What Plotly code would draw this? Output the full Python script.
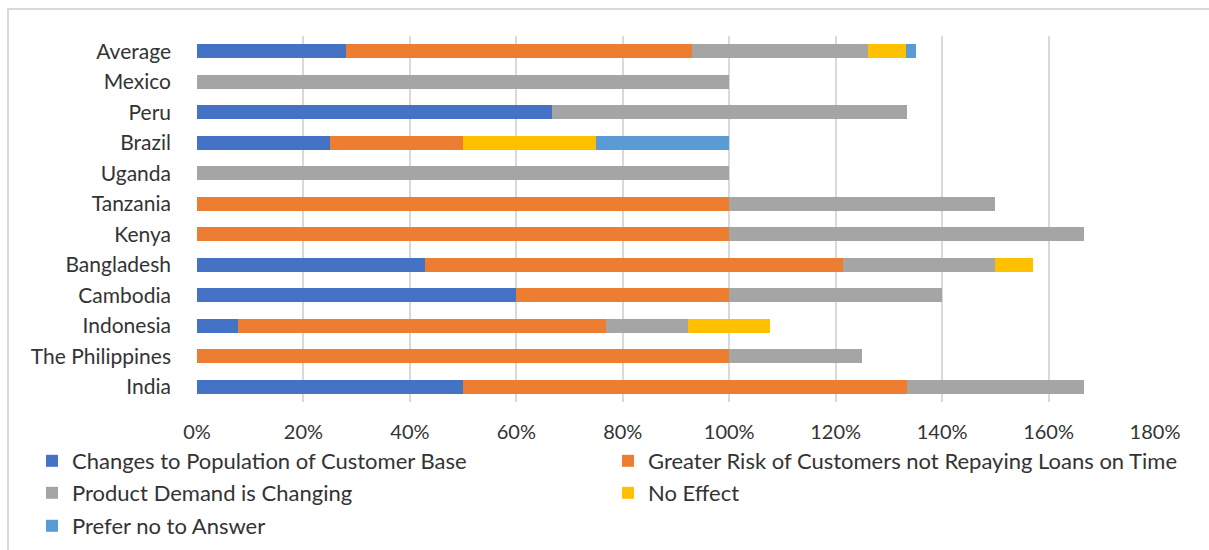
import plotly.graph_objects as go

categories = ["India", "The Philippines", "Indonesia", "Cambodia", "Bangladesh", "Kenya",
              "Tanzania", "Uganda", "Brazil", "Peru", "Mexico", "Average"]

series_names = ["Changes to Population of Customer Base",
                "Greater Risk of Customers not Repaying Loans on Time",
                "Product Demand is Changing",
                "No Effect",
                "Prefer no to Answer"]

customer_base = [0.50, 0.0, 0.0769, 0.60, 0.4286, 0.0, 0.0, 0.0, 0.25, 0.6667, 0.0, 0.28]
repay_risk = [0.8333, 1.00, 0.6923, 0.40, 0.7857, 1.00, 1.00, 0.0, 0.25, 0.0, 0.0, 0.65]
demand_change = [0.3333, 0.25, 0.1538, 0.40, 0.2857, 0.6667, 0.50, 1.00, 0.0, 0.6667, 1.00, 0.33]
no_effect = [0.0, 0.0, 0.1538, 0.0, 0.0714, 0.0, 0.0, 0.0, 0.25, 0.0, 0.0, 0.073]
no_answer = [0.0, 0.0, 0.0, 0.0, 0.0, 0.0, 0.0, 0.0, 0.25, 0.0, 0.0, 0.017]

tick_vals = [0, 0.2, 0.4, 0.6, 0.8, 1.0, 1.2, 1.4, 1.6, 1.8]
tick_text = ["0%", "20%", "40%", "60%", "80%", "100%", "120%", "140%", "160%", "180%"]

colors = ["#4472C4", "#ED7D31", "#A5A5A5", "#FFC000", "#5B9BD5"]
series_values = [customer_base, repay_risk, demand_change, no_effect, no_answer]
legend_rows = ["legend", "legend", "legend2", "legend2", "legend3"]

FONT = "Lato, 'Open Sans', sans-serif"
TXT = "#333333"

fig = go.Figure()
for name, vals, col, lg in zip(series_names, series_values, colors, legend_rows):
    fig.add_trace(go.Bar(
        y=categories, x=vals, name=name, orientation="h",
        marker=dict(color=col, line=dict(width=0)),
        legend=lg,
        hoverinfo="x+y+name",
    ))

W, H = 1209, 550
L, R, T, B = 197, 54, 36, 148
pw, ph = W - L - R, H - T - B

def px_x(p):
    return (p - L) / pw

def px_y(p):
    return (H - B - p) / ph

def legend_at(py):
    return dict(
        orientation="h",
        x=px_x(32), xanchor="left",
        y=px_y(py), yanchor="middle",
        entrywidth=531, entrywidthmode="pixels",
        font=dict(size=22, color=TXT, family=FONT),
        traceorder="normal",
        itemwidth=30,
        bgcolor="rgba(0,0,0,0)",
    )

fig.update_layout(
    width=W, height=H,
    barmode="stack",
    bargap=0.54,
    margin=dict(l=L, r=R, t=T, b=B, pad=0, autoexpand=False),
    paper_bgcolor="white",
    plot_bgcolor="white",
    font=dict(family=FONT, color=TXT, size=21),
    xaxis=dict(
        range=[0, 1.8], tickvals=tick_vals, ticktext=tick_text,
        showgrid=True, gridcolor="#D9D9D9", gridwidth=1.5,
        zeroline=False, showline=False, ticks="",
        ticklabelstandoff=16,
        tickfont=dict(size=20, color=TXT, family=FONT),
        fixedrange=True,
    ),
    yaxis=dict(
        categoryorder="array", categoryarray=categories,
        showgrid=False, zeroline=False, showline=False, ticks="",
        ticklabelstandoff=25,
        tickfont=dict(size=21, color=TXT, family=FONT),
        fixedrange=True,
    ),
    legend=legend_at(461),
    legend2=legend_at(493),
    legend3=legend_at(526),
    shapes=[dict(
        type="rect", xref="paper", yref="paper",
        x0=px_x(8), x1=px_x(1230), y0=px_y(570), y1=px_y(9),
        line=dict(color="#D9D9D9", width=2), fillcolor="rgba(0,0,0,0)",
        layer="below",
    )],
)

fig.write_html("out.html")
